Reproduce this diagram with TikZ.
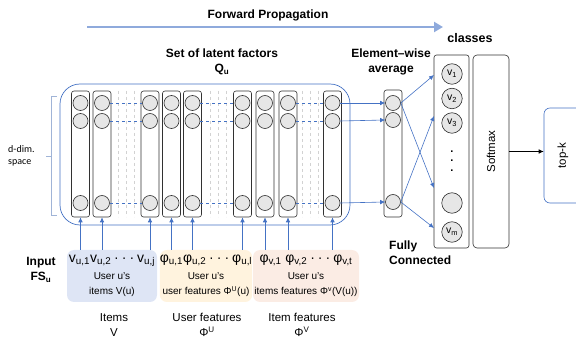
\documentclass[tikz,border=0pt]{standalone}
\usepackage{fontspec}
\setmainfont{Liberation Sans}
\newfontfamily\calibri{Carlito}
\usetikzlibrary{arrows.meta,positioning,calc}
\definecolor{lineblue}{RGB}{68,114,196}
\definecolor{fwdblue}{RGB}{143,170,220}
\definecolor{bracegray}{RGB}{160,180,215}
\definecolor{cellgray}{RGB}{230,230,230}
\definecolor{boxgray}{RGB}{50,50,50}
\definecolor{itemsfill}{RGB}{222,229,245}
\definecolor{userfill}{RGB}{255,243,222}
\definecolor{featfill}{RGB}{251,236,228}
\newcommand{\rowfont}{\fontsize{14}{15}\selectfont}
\newcommand{\notefont}{\fontsize{10}{12.5}\selectfont}
\newcommand{\dotsrow}{\kern3pt·\kern3pt·\kern3pt·\kern3pt}

\begin{document}
\begin{tikzpicture}[x=1pt, y=-1pt,
    every node/.style={font=\fontsize{11.5}{15}\selectfont, inner sep=0pt},
    column/.style={draw=boxgray, line width=0.6pt, rounded corners=2.5pt, minimum width=18pt},
    cell/.style={circle, draw=boxgray, line width=0.6pt, fill=cellgray, minimum size=15pt},
    classcell/.style={circle, draw=boxgray, line width=0.6pt, fill=cellgray, minimum size=20.5pt, font=\fontsize{10.5}{11}\selectfont},
    inbox/.style={rounded corners=7pt, minimum width=#1, minimum height=52pt, align=center},
    title/.style={font=\bfseries\fontsize{12}{15}\selectfont, align=center},
    flow/.style={lineblue, line width=0.6pt, -{Latex[length=5pt,width=4.5pt]}}
  ]
  \useasboundingbox (0,0) rectangle (576,339);

  \node[title] (fwd) at (268,15) {Forward Propagation};
  \coordinate (fwdstart) at (87,27);
  \coordinate (fwdend) at (443,27);
  \draw[fwdblue, line width=2.8pt, -{Triangle[length=9pt,width=10pt]}] (fwdstart) -- (fwdend);

  \node[title] (qlabel) at (222,62) {Set of latent factors\\Q\textsubscript{u}};
  \node[draw=lineblue, line width=0.7pt, rounded corners=20pt, minimum width=290pt, minimum height=141pt] (qset) at (205,154.5) {};

  \foreach \x in {118,126,134,210,218,226,302,310,318}
    \draw[gray!35, dashed] (\x,91) -- (\x,217);

  \foreach \x [count=\i] in {80.5,102,150,171.5,192.5,242.5,265,288,332.5} {
    \node[column, minimum height=126pt] (c\i) at (\x,154) {};
    \node[cell] (c\i a) at (\x,103) {};
    \node[cell] (c\i b) at (\x,121) {};
    \node[cell] (c\i c) at (\x,203) {};
  }
  \foreach \a/\b in {2/3,5/6,8/9}
    \foreach \r in {a,b,c}
      \draw[lineblue, line width=0.6pt, dashed] (c\a\r) -- (c\b\r);

  \draw[bracegray] (57,96) -- (51,96) -- (51,215) -- (57,215);
  \draw[bracegray] (51,156) -- (46,156);
  \node[anchor=west, align=left, font=\calibri\fontsize{10}{12}\selectfont] (dspace) at (8,156) {d-dim.\\space};

  \node[inbox=90pt, fill=itemsfill] (items) at (112,276) {%
    \rowfont v\textsubscript{u,1}v\textsubscript{u,2}\dotsrow v\textsubscript{u,j}\\[2pt]
    \notefont User u's\\\notefont items V(u)};
  \node[inbox=92pt, fill=userfill] (users) at (206,276) {%
    \rowfont φ\textsubscript{u,1}φ\textsubscript{u,2}\dotsrow φ\textsubscript{u,l}\\[2pt]
    \notefont User u's\\\notefont user features Φ\textsuperscript{U}(u)};
  \node[inbox=106pt, fill=featfill] (feats) at (306,276) {%
    \rowfont φ\textsubscript{v,1} φ\textsubscript{v,2}\dotsrow φ\textsubscript{v,t}\\[2pt]
    \notefont User u's\\\notefont items features Φ\textsuperscript{v}(V(u))};

  \foreach \i in {1,...,9}
    \draw[flow] (c\i.south |- items.north) -- (c\i.south);

  \node[title] (input) at (41,270) {Input\\FS\textsubscript{u}};
  \node[align=center] (itemslbl) at (114,325) {Items\\V};
  \node[align=center] (userlbl) at (207,325) {User features\\Φ\textsuperscript{U}};
  \node[align=center] (featlbl) at (302,325) {Item features\\Φ\textsuperscript{V}};

  \node[title] (avglabel) at (391,62) {Element–wise\\average};
  \node[column, minimum height=127pt] (avg) at (393,153.5) {};
  \node[cell] (avga) at (393,103) {};
  \node[cell] (avgb) at (393,120) {};
  \node[cell] (avgc) at (393,202) {};
  \foreach \r in {a,b,c}
    \draw[flow] (c9\r.east) -- (avg\r.west);

  \node[title, font=\bfseries\fontsize{12.5}{15}\selectfont] (clslabel) at (470,38) {classes};
  \node[column, minimum width=35pt, minimum height=193pt] (cls) at (451.5,151.5) {};
  \node[classcell] (v1) at (452,74) {v\textsubscript{1}};
  \node[classcell] (v2) at (452,98.5) {v\textsubscript{2}};
  \node[classcell] (v3) at (452,123) {v\textsubscript{3}};
  \node[font=\bfseries\fontsize{11}{9.5}\selectfont, align=center] (vdots) at (452,161) {.\\.\\.};
  \node[classcell] (vx) at (452,203) {};
  \node[classcell] (vm) at (452,232) {v\textsubscript{m}};

  \coordinate (fc1) at (434,75);
  \coordinate (fc2) at (434,116);
  \coordinate (fc3) at (434,188);
  \coordinate (fc4) at (434,228);
  \draw[flow] (avga.east) -- (fc1);
  \draw[flow] (avga.east) -- (fc3);
  \draw[flow] (avgc.east) -- (fc2);
  \draw[flow] (avgc.east) -- (fc4);
  \node[title, align=left, anchor=west] (fclabel) at (389,253) {Fully\\Connected};

  \node[draw=boxgray, line width=0.6pt, rounded corners=4pt, minimum width=193pt, minimum height=36pt, rotate=90] (soft) at (491,151.5) {Softmax};
  \node[draw=lineblue, line width=0.6pt, rounded corners=6pt, minimum width=95pt, minimum height=38pt, rotate=90] (topk) at (563,155.5) {top-k};
  \draw[line width=0.6pt, -{Latex[length=5pt,width=4.5pt]}] (soft.south) -- (topk.north |- soft.south);
\end{tikzpicture}
\end{document}
